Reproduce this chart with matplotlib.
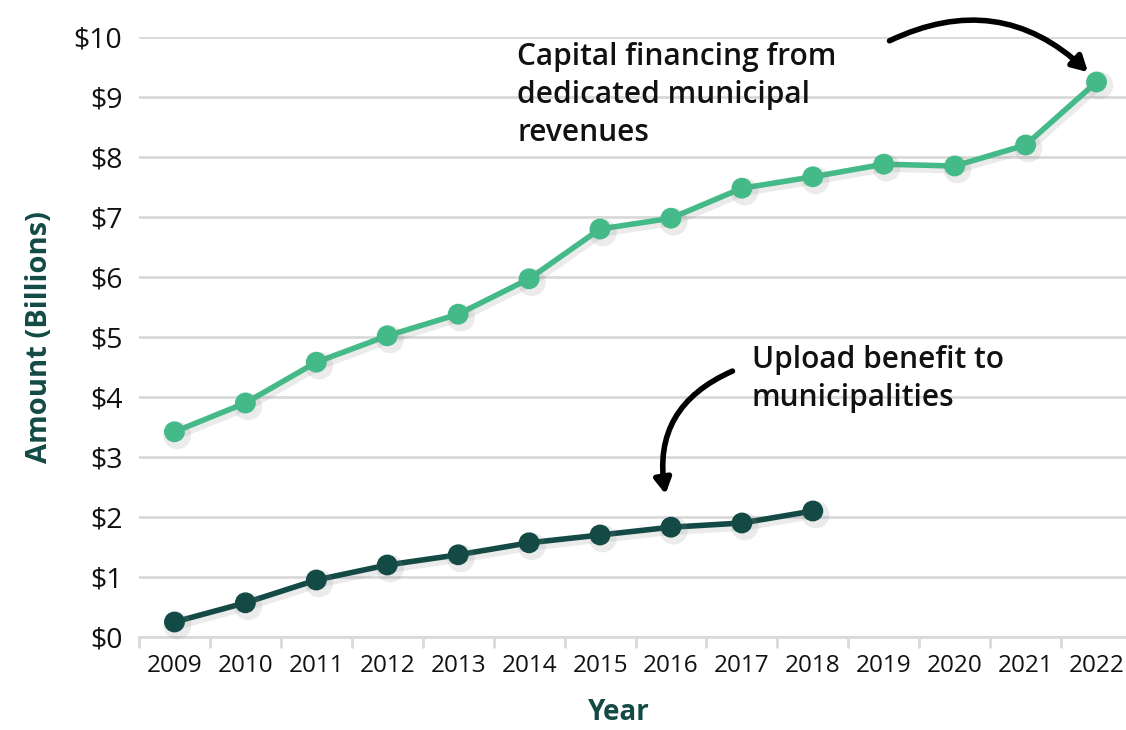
import matplotlib
matplotlib.use("Agg")
import matplotlib.pyplot as plt
import matplotlib.patheffects as pe

years = ["2009", "2010", "2011", "2012", "2013", "2014", "2015", "2016",
         "2017", "2018", "2019", "2020", "2021", "2022"]
capital = [3.42, 3.90, 4.58, 5.02, 5.38, 5.97, 6.80, 6.98, 7.48, 7.67, 7.88, 7.85, 8.20, 9.25]
upload_years = years[:10]
upload = [0.25, 0.57, 0.95, 1.20, 1.37, 1.57, 1.70, 1.83, 1.90, 2.10]
yticks = [0, 1, 2, 3, 4, 5, 6, 7, 8, 9, 10]
ytick_labels = ["$" + str(v) for v in yticks]

GREEN = "#43BA88"
DARK = "#134A45"
GRID = "#D9D9D9"

plt.rcParams['font.family'] = ['Open Sans', 'DejaVu Sans']

fig = plt.figure(figsize=(11.26, 7.30), dpi=100)
ax = fig.add_axes([139 / 1126, 1 - 637 / 730, (1132 - 139) / 1126, 600 / 730])

xs = list(range(len(years)))
shadow = [pe.SimpleLineShadow(offset=(2, -2.5), shadow_color="#888888", alpha=0.16, linewidth=6),
          pe.Normal()]

ax.plot(xs, capital, color=GREEN, lw=4, marker="o", ms=14, clip_on=False,
        zorder=3, path_effects=shadow)
ax.plot(xs[:len(upload)], upload, color=DARK, lw=4, marker="o", ms=14, clip_on=False,
        zorder=3, path_effects=shadow)

ax.set_ylim(0, 10)
ax.set_xlim(-0.5, len(years) - 0.5)
ax.set_yticks(yticks)
ax.set_yticklabels(ytick_labels, fontsize=20.5, color="#111111")
ax.set_xticks(xs)
ax.set_xticklabels(years, fontsize=17.5, color="#111111")
ax.tick_params(axis="y", length=0, pad=12)
ax.tick_params(axis="x", which="major", length=0, pad=12)
ax.set_xticks([x - 0.5 for x in xs] + [len(xs) - 0.5], minor=True)
ax.tick_params(axis="x", which="minor", length=8, color=GRID, width=2)

ax.grid(axis="y", color=GRID, lw=2)
ax.set_axisbelow(True)
for s in ["top", "right", "left"]:
    ax.spines[s].set_visible(False)
ax.spines["bottom"].set_color(GRID)
ax.spines["bottom"].set_linewidth(2)

ax.set_ylabel("Amount (Billions)", fontsize=21, fontweight="bold", color=DARK, labelpad=14)
ax.set_xlabel("Year", fontsize=20, fontweight="bold", color=DARK)
ax.xaxis.set_label_coords((619 - 139) / 993, -(698 - 637) / 600)

ax.text(517, 730 - 42, "Capital financing from\ndedicated municipal\nrevenues",
        transform=None, fontsize=21.5, fontweight="semibold", color="#111111",
        va="top", ha="left", linespacing=1.34)
ax.text(752, 730 - 345, "Upload benefit to\nmunicipalities",
        transform=None, fontsize=21.5, fontweight="semibold", color="#111111",
        va="top", ha="left", linespacing=1.34)

ax.annotate("", xy=(1090, 730 - 74), xytext=(887, 730 - 42),
            xycoords="figure pixels", textcoords="figure pixels",
            arrowprops=dict(arrowstyle="-|>,head_length=0.9,head_width=0.5", lw=4,
                            color="black", connectionstyle="arc3,rad=-0.35"))
ax.annotate("", xy=(666, 730 - 497), xytext=(735, 730 - 370),
            xycoords="figure pixels", textcoords="figure pixels",
            arrowprops=dict(arrowstyle="-|>,head_length=0.9,head_width=0.5", lw=4,
                            color="black", connectionstyle="arc3,rad=0.4"))

fig.savefig("out.png", dpi=100)
